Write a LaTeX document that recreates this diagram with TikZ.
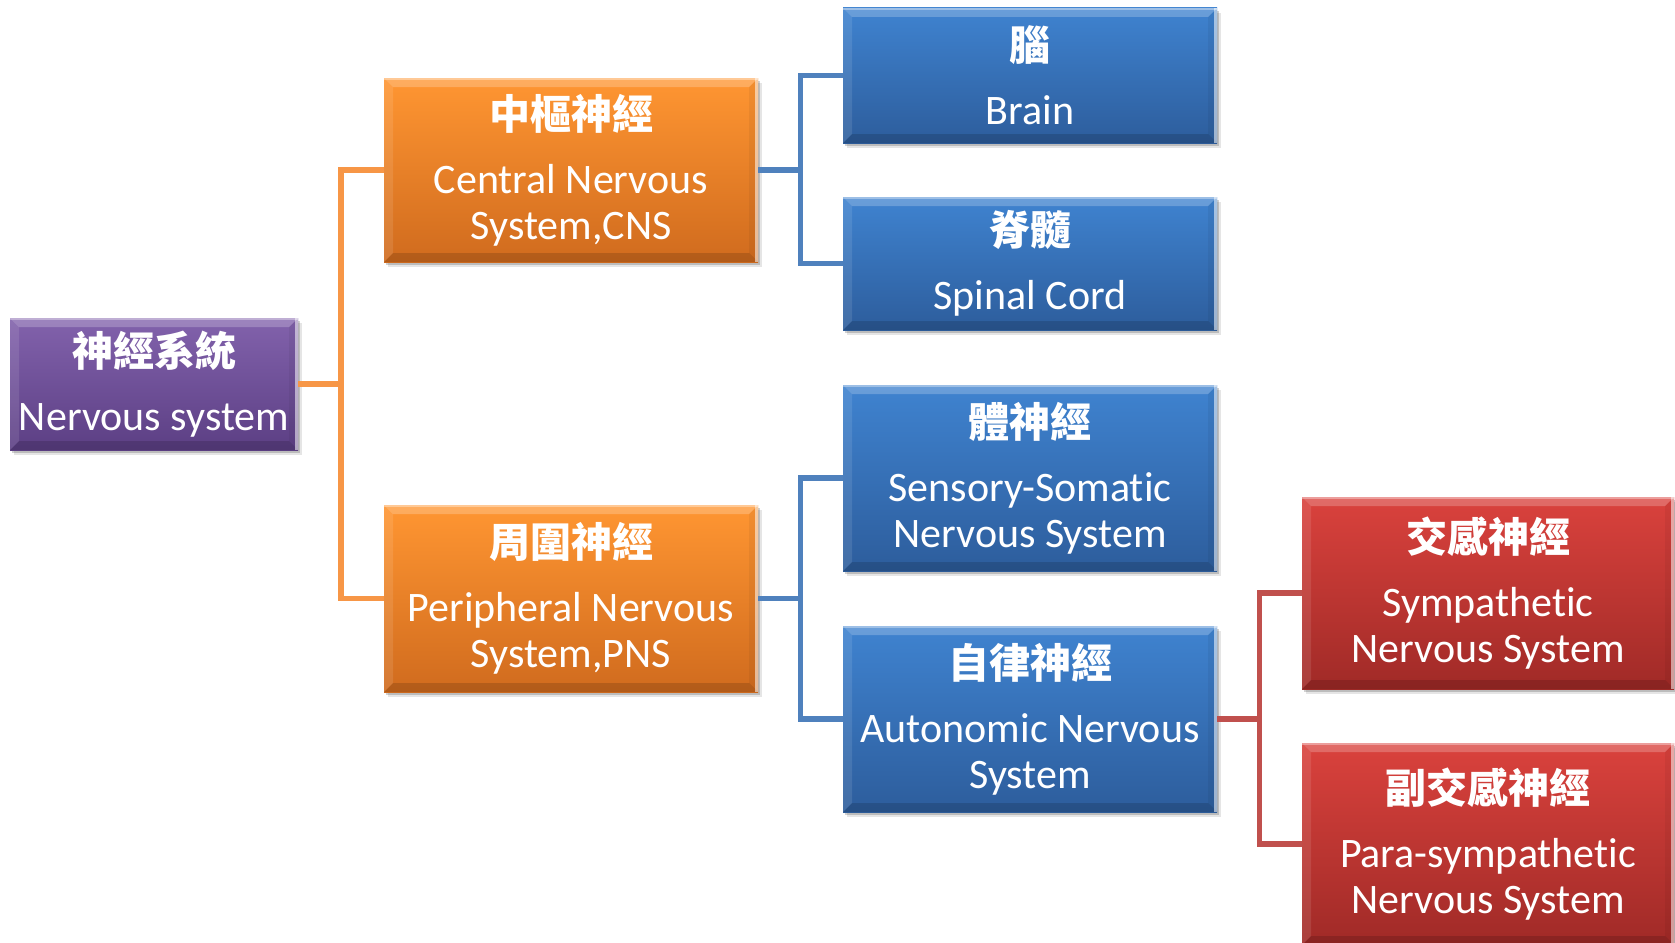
\documentclass[tikz,border=0pt]{standalone}
\usepackage{fontspec}
\setmainfont{Carlito}[Ligatures={NoCommon}]
\newfontfamily\cjk{Noto Sans CJK TC}
\usetikzlibrary{calc}

\definecolor{purpleT}{HTML}{8262AC}
\definecolor{purpleB}{HTML}{5C3F84}
\definecolor{orangeT}{HTML}{FF9632}
\definecolor{orangeB}{HTML}{D06B1E}
\definecolor{blueT}{HTML}{3F83D0}
\definecolor{blueB}{HTML}{2D5D9C}
\definecolor{redT}{HTML}{DA423D}
\definecolor{redB}{HTML}{A02A27}
\definecolor{orangeLine}{HTML}{F79646}
\definecolor{blueLine}{HTML}{4F81BD}
\definecolor{redLine}{HTML}{C0504D}

\tikzset{
  bevelbox/.style={
    rectangle, inner sep=0pt, text=white, align=center,
    font=\fontsize{42}{46}\selectfont,
    preaction={fill=black, opacity=.10, transform canvas={xshift=4pt,yshift=-5pt}},
    preaction={fill=black, opacity=.18, transform canvas={xshift=2pt,yshift=-3pt}},
    path picture={
      \coordinate (nw) at (path picture bounding box.north west);
      \coordinate (ne) at (path picture bounding box.north east);
      \coordinate (sw) at (path picture bounding box.south west);
      \coordinate (se) at (path picture bounding box.south east);
      % top facet
      \fill[white, opacity=.22] (nw) -- (ne) -- ([shift={(-9pt,-9pt)}]ne) -- ([shift={(9pt,-9pt)}]nw) -- cycle;
      % left facet
      \fill[white, opacity=.10] (nw) -- ([shift={(9pt,-9pt)}]nw) -- ([shift={(9pt,9pt)}]sw) -- (sw) -- cycle;
      % bottom facet
      \fill[black, opacity=.14] (sw) -- (se) -- ([shift={(-9pt,9pt)}]se) -- ([shift={(9pt,9pt)}]sw) -- cycle;
      % right facet
      \fill[black, opacity=.05] (ne) -- (se) -- ([shift={(-9pt,9pt)}]se) -- ([shift={(-9pt,-9pt)}]ne) -- cycle;
      \draw[white, opacity=.55, line width=2.5pt] ([xshift=-1.5pt]ne) -- ([xshift=-1.5pt]se);
      \draw[white, opacity=.35, line width=2pt] ([yshift=-1pt]nw) -- ([yshift=-1pt]ne);
    }},
  purplebox/.style={bevelbox, top color=purpleT, bottom color=purpleB},
  orangebox/.style={bevelbox, top color=orangeT, bottom color=orangeB},
  bluebox/.style={bevelbox, top color=blueT, bottom color=blueB},
  redbox/.style={bevelbox, top color=redT, bottom color=redB},
  link/.style={line width=5.5pt, line join=miter},
  orangelink/.style={link, draw=orangeLine},
  bluelink/.style={link, draw=blueLine},
  redlink/.style={link, draw=redLine},
}
\newcommand{\zh}[1]{{\cjk\bfseries\fontsize{41}{46}\selectfont #1}}

\begin{document}
\begin{tikzpicture}[x=1pt, y=-1pt]
\useasboundingbox (0,0) rectangle (1675,942);

% junction columns of the tree
\coordinate (jo) at (341,0);
\coordinate (jb) at (800.5,0);
\coordinate (jr) at (1259.5,0);

% boxes
\node[purplebox, minimum width=288pt, minimum height=132pt] (ns) at (154,384)
  {\zh{神經系統}\\[18pt]Nervous system};
\node[orangebox, minimum width=374pt, minimum height=184pt] (cns) at (571,170)
  {\zh{中樞神經}\\[18pt]Central Nervous\\System,CNS};
\node[orangebox, minimum width=374pt, minimum height=187pt] (pns) at (571,598.5)
  {\zh{周圍神經}\\[18pt]Peripheral Nervous\\System,PNS};
\node[bluebox, minimum width=374pt, minimum height=135pt] (brain) at (1030,75.5)
  {\zh{腦}\\[18pt]Brain};
\node[bluebox, minimum width=374pt, minimum height=133pt] (spinal) at (1030,263.5)
  {\zh{脊髓}\\[18pt]Spinal Cord};
\node[bluebox, minimum width=374pt, minimum height=186pt] (soma) at (1030,478)
  {\zh{體神經}\\[18pt]Sensory-Somatic\\Nervous System};
\node[bluebox, minimum width=374pt, minimum height=186pt] (auto) at (1030,719)
  {\zh{自律神經}\\[18pt]Autonomic Nervous\\System};
\node[redbox, minimum width=372pt, minimum height=192pt] (symp) at (1488,593)
  {\zh{交感神經}\\[18pt]Sympathetic\\Nervous System};
\node[redbox, minimum width=372pt, minimum height=202pt] (para) at (1488,844)
  {\zh{副交感神經}\\[18pt]Para-sympathetic\\Nervous System};

% tree connectors
\draw[orangelink] (ns.east) -- (ns.east -| jo) |- (cns.west);
\draw[orangelink] (ns.east) -- (ns.east -| jo) |- (pns.west);
\draw[bluelink] (cns.east) -- (cns.east -| jb) |- (brain.west);
\draw[bluelink] (cns.east) -- (cns.east -| jb) |- (spinal.west);
\draw[bluelink] (pns.east) -- (pns.east -| jb) |- (soma.west);
\draw[bluelink] (pns.east) -- (pns.east -| jb) |- (auto.west);
\draw[redlink] (auto.east) -- (auto.east -| jr) |- (symp.west);
\draw[redlink] (auto.east) -- (auto.east -| jr) |- (para.west);
\end{tikzpicture}
\end{document}
